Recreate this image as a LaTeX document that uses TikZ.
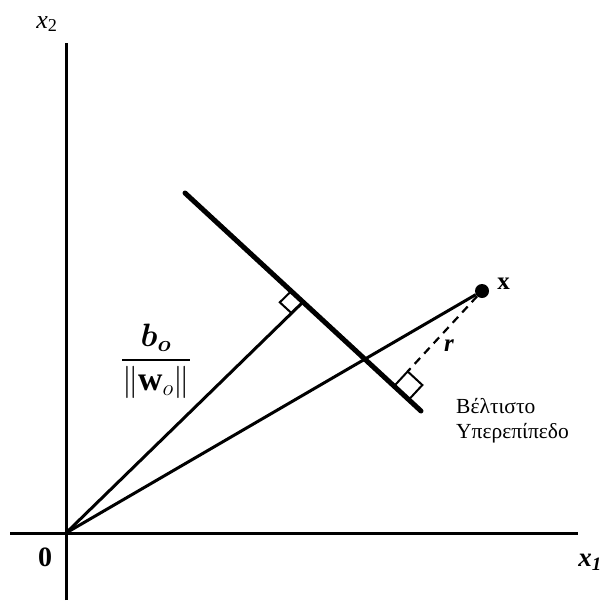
\documentclass[tikz,border=0pt]{standalone}
\usepackage{amsmath}
\usepackage{fontspec}
\setmainfont{Liberation Serif}
\usepackage{tikz}
\usetikzlibrary{positioning,calc}
\tikzset{
  axisline/.style={line width=3pt},
  plane/.style={line width=5pt,line cap=round},
  ray/.style={line width=3pt},
  perp/.style={line width=2pt},
  dist/.style={line width=2.2pt,dash pattern=on 8pt off 6pt},
  lbl/.style={inner sep=1pt,font=\fontsize{26}{30}\selectfont},
  greek/.style={inner sep=0pt,align=left,font=\fontsize{21.5}{25}\selectfont},
}

\begin{document}
\begin{tikzpicture}[x=1pt,y=-1pt]
  \useasboundingbox (0,0) rectangle (605,600);
  \coordinate (o) at (66,533);
  \coordinate (ytop) at (66,43);
  \coordinate (ybot) at (66,600);
  \coordinate (xleft) at (10,533);
  \coordinate (xright) at (578,533);
  \draw[axisline] (ybot) -- (ytop);
  \draw[axisline] (xleft) -- (xright);
  \coordinate (h1) at (185,193);
  \coordinate (h2) at (421,411);
  \coordinate (foot) at ($(h1)!0.5!(h2)$);
  \node[circle,fill,inner sep=0pt,minimum size=14pt] (xdot) at (482,291) {};
  \coordinate (rfoot) at ($(h1)!(xdot.center)!(h2)$);
  \draw[plane] (h1) -- (h2);
  \draw[ray] (o) -- (foot);
  \draw[ray] (o) -- (xdot);
  % right-angle marks
  \coordinate (fa) at ($(foot)!16pt!(h1)$);
  \coordinate (fb) at ($(foot)!16pt!(o)$);
  \coordinate (fc) at ($(fa)+(fb)-(foot)$);
  \draw[perp] (fa) -- (fc) -- (fb);
  \coordinate (ra) at ($(rfoot)!20pt!(xdot.center)$);
  \coordinate (rb) at ($(rfoot)!20pt!(h2)$);
  \coordinate (rc) at ($(ra)+(rb)-(rfoot)$);
  \draw[perp] (rfoot) -- (ra) -- (rc) -- (rb);
  \draw[dist] (xdot) -- (ra);
  \node[lbl] (x2lbl) at (47,24) {\textit{x}\textsubscript{2}};
  \node[lbl,font=\fontsize{28}{32}\selectfont\bfseries] (zero) at (45,557) {0};
  \node[lbl,font=\fontsize{27}{30}\selectfont\bfseries\itshape] (x1lbl) at (590,562) {x\textsubscript{1}};
  \node[lbl,font=\fontsize{25}{29}\selectfont\bfseries,right=7pt of xdot,yshift=7pt] (xlbl) {x};
  \node[lbl,font=\fontsize{25}{29}\selectfont\bfseries\itshape] (rlbl) at (449,346) {r};
  \node[lbl] (frac) at (156,361) {\scalebox{1.3}{$\dfrac{\boldsymbol{b_o}}{\|\mathbf{w}_o\|}$}};
  \node[greek,anchor=north west] (plbl) at (456,398) {Βέλτιστο\\Υπερεπίπεδο};
\end{tikzpicture}
\end{document}
